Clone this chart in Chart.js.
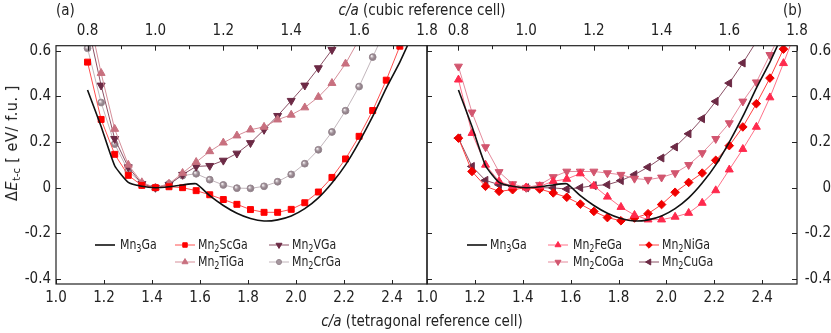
<!DOCTYPE html>
<html><head><meta charset="utf-8">
<script src="https://cdn.jsdelivr.net/npm/chart.js@4/dist/chart.umd.min.js"></script>
<style>
html,body{margin:0;padding:0;background:#fff;}
#wrap{position:relative;width:831px;height:333px;overflow:hidden;font-family:'DejaVu Sans Condensed','DejaVu Sans',sans-serif;color:#222;}
canvas{position:absolute;top:0;}
#cL{left:0;} #cR{left:400px;}
.t{position:absolute;white-space:nowrap;line-height:1;}
.ttl{font-size:15px;}
.lg{font-size:13.5px;transform:translateY(-50%) scaleX(0.9);transform-origin:0 50%;}
sub{font-size:10px;vertical-align:-3px;line-height:0;}
#ytitle{left:12px;top:143px;transform:translate(-50%,-50%) rotate(-90deg);font-size:16px;letter-spacing:0.6px;}
#ytitle sub{font-size:11px;letter-spacing:0;}
</style></head>
<body>
<div id="wrap">
<canvas id="cL" width="440" height="333"></canvas>
<canvas id="cR" width="431" height="333"></canvas>
<div class="t ttl" style="left:56px;top:3px;">(a)</div>
<div class="t ttl" style="left:783px;top:3px;">(b)</div>
<div class="t ttl" id="toptitle" style="left:422px;top:3px;transform:translateX(-50%);"><i>c/a</i> (cubic reference cell)</div>
<div class="t ttl" id="bottitle" style="left:422px;top:314px;transform:translateX(-50%);"><i>c/a</i> (tetragonal reference cell)</div>
<div class="t" id="ytitle">Δ<i>E</i><sub>t-c</sub>&nbsp;[ eV/ f.u. ]</div>
<div class="t lg" style="left:120px;top:245px;">Mn<sub>3</sub>Ga</div>
<div class="t lg" style="left:198px;top:245px;">Mn<sub>2</sub>ScGa</div>
<div class="t lg" style="left:292px;top:245px;">Mn<sub>2</sub>VGa</div>
<div class="t lg" style="left:198px;top:262px;">Mn<sub>2</sub>TiGa</div>
<div class="t lg" style="left:292px;top:262px;">Mn<sub>2</sub>CrGa</div>
<div class="t lg" style="left:490px;top:245px;">Mn<sub>3</sub>Ga</div>
<div class="t lg" style="left:573px;top:245px;">Mn<sub>2</sub>FeGa</div>
<div class="t lg" style="left:662px;top:245px;">Mn<sub>2</sub>NiGa</div>
<div class="t lg" style="left:573px;top:262px;">Mn<sub>2</sub>CoGa</div>
<div class="t lg" style="left:662px;top:262px;">Mn<sub>2</sub>CuGa</div>
</div>
<script>
// ---- data (cubic c/a grid, energies in eV/f.u.) ----
const cubicCA = [0.80,0.84,0.88,0.92,0.96,1.00,1.04,1.08,1.12,1.16,1.20,1.24,1.28,1.32,1.36,1.40,1.44,1.48,1.52,1.56,1.60,1.64,1.68,1.72,1.76,1.80];
const mn3Ga   = [0.428,0.268,0.096,0.023,0.006,0.000,0.004,0.012,0.017,-0.035,-0.078,-0.112,-0.135,-0.146,-0.141,-0.124,-0.092,-0.045,0.020,0.100,0.200,0.312,0.436,0.550,0.680];
const mn2ScGa = [0.550,0.299,0.146,0.054,0.010,0.000,0.004,0.000,-0.013,-0.031,-0.052,-0.073,-0.096,-0.108,-0.108,-0.095,-0.066,-0.019,0.045,0.126,0.225,0.338,0.471,0.620,0.770];
const mn2TiGa = [0.780,0.502,0.257,0.100,0.023,0.000,0.017,0.064,0.112,0.159,0.197,0.228,0.254,0.266,0.298,0.319,0.351,0.397,0.458,0.543,0.650];
const mn2VGa  = [0.720,0.448,0.214,0.090,0.017,0.000,0.013,0.057,0.093,0.096,0.119,0.150,0.196,0.254,0.315,0.381,0.448,0.524,0.604,0.690];
const mn2CrGa = [0.611,0.373,0.191,0.074,0.017,0.000,0.017,0.053,0.061,0.035,0.012,-0.002,-0.003,0.006,0.026,0.058,0.105,0.166,0.244,0.337,0.443,0.572,0.700];
const mn2FeGa = [0.473,0.239,0.100,0.028,0.006,0.000,0.006,0.028,0.038,0.062,0.008,-0.040,-0.085,-0.120,-0.140,-0.140,-0.128,-0.111,-0.067,-0.012,0.079,0.169,0.266,0.395,0.545,0.700];
const mn2CoGa = [0.531,0.330,0.178,0.069,0.016,0.000,0.013,0.047,0.071,0.071,0.071,0.064,0.057,0.040,0.035,0.045,0.064,0.100,0.152,0.214,0.283,0.378,0.462,0.582,0.700];
const mn2NiGa = [0.217,0.071,0.006,-0.016,-0.009,0.000,-0.006,-0.023,-0.042,-0.072,-0.104,-0.131,-0.145,-0.133,-0.114,-0.074,-0.020,0.023,0.064,0.120,0.184,0.266,0.368,0.480,0.607,0.740];
const mn2CuGa = [0.217,0.093,0.032,0.013,0.006,0.000,0.000,-0.001,-0.006,0.000,0.009,0.013,0.031,0.057,0.090,0.130,0.178,0.236,0.302,0.378,0.458,0.546,0.640];

const cubicTicks = [0.8,0.9,1.0,1.1,1.2,1.3,1.4,1.5,1.6,1.7,1.8];
const cubicTickLabels = ['0.8','','1.0','','1.2','','1.4','','1.6','','1.8'];
const tetraTicks = [1.0,1.2,1.4,1.6,1.8,2.0,2.2,2.4];
const tetraTickLabels = ['1.0','1.2','1.4','1.6','1.8','2.0','2.2','2.4'];
const energyTicks = [-0.4,-0.2,0,0.2,0.4,0.6];
const energyTickLabels = ['-0.4','-0.2','0','0.2','0.4','0.6'];

const CUBIC_MIN = 1/Math.SQRT2, CUBIC_MAX = 1.8;
const TETRA_MIN = 1.0, TETRA_MAX = 1.8*Math.SQRT2;
const Y_MIN = -0.422, Y_MAX = 0.622;
Chart.defaults.font.family = "'DejaVu Sans Condensed','DejaVu Sans',sans-serif";
Chart.defaults.color = '#222';

function pts(vals){ return vals.map((v,i)=>({x:cubicCA[i], y:v})); }
function series(label, vals, color, line, style, r, rot, edge){
  return {label, data:pts(vals), xAxisID:'x2', yAxisID:'y',
    borderColor: line, borderWidth: 1, pointStyle: style, pointRadius: r, pointRotation: rot||0,
    pointBackgroundColor: color, pointBorderColor: edge||color, pointBorderWidth: 1, tension: 0, fill:false};
}
function sphereFill(base){
  return function(c){
    if (c.type !== 'data' || !c.parsed) return base;
    const ch = c.chart, sx = ch.scales.x2, sy = ch.scales.y;
    if (!sx || !sy) return base;
    const x = sx.getPixelForValue(c.parsed.x), y = sy.getPixelForValue(c.parsed.y);
    if (!isFinite(x) || !isFinite(y)) return base;
    const g = ch.ctx.createRadialGradient(x-1.2, y-1.2, 0.3, x, y, 3.6);
    g.addColorStop(0, '#f4f0f2'); g.addColorStop(0.45, base); g.addColorStop(1, '#7f6e77');
    return g;
  };
}
function black(){
  return {label:'Mn3Ga', data:pts(mn3Ga), xAxisID:'x2', yAxisID:'y', borderColor:'#111', borderWidth:1.6,
    pointRadius:0, tension:0.15, fill:false};
}

const frameTicks = {
  id:'frameTicks',
  afterDatasetsDraw(chart, args, opts){
    const ctx = chart.ctx, a = chart.chartArea;
    const xb = chart.scales.x, xt = chart.scales.x2, y = chart.scales.y;
    ctx.save();
    ctx.strokeStyle = '#222'; ctx.lineWidth = 1;
    ctx.beginPath();
    xb.ticks.forEach(t=>{const p=Math.round(xb.getPixelForValue(t.value))+0.5; ctx.moveTo(p,a.bottom); ctx.lineTo(p,a.bottom-4);});
    xt.ticks.forEach((t,i)=>{const p=Math.round(xt.getPixelForValue(t.value))+0.5; const L = cubicTickLabels[i] ? 5 : 3.5; ctx.moveTo(p,a.top); ctx.lineTo(p,a.top+L);});
    y.ticks.forEach(t=>{const p=Math.round(y.getPixelForValue(t.value))+0.5;
      ctx.moveTo(a.left,p); ctx.lineTo(a.left+5,p);
      if (opts.side==='right'){ ctx.moveTo(a.right,p); ctx.lineTo(a.right-5,p); }
    });
    ctx.stroke();
    ctx.lineWidth = 1.2;
    ctx.strokeRect(a.left, a.top, a.right-a.left, a.bottom-a.top);
    ctx.restore();
  }
};
const symLegend = {
  id:'symLegend',
  afterDraw(chart, args, opts){
    const ctx = chart.ctx;
    (opts.items||[]).forEach(it=>{
      const ds = chart.data.datasets[it.ds];
      ctx.save();
      ctx.strokeStyle = ds.borderColor; ctx.lineWidth = ds.borderWidth;
      ctx.beginPath(); ctx.moveTo(it.x, it.y); ctx.lineTo(it.x+20, it.y); ctx.stroke();
      if (ds.pointRadius>0){
        ctx.fillStyle = ds.legendColor || ds.pointBackgroundColor; ctx.strokeStyle = ds.pointBorderColor;
        Chart.helpers.drawPoint(ctx, {pointStyle: ds.pointStyle, rotation: ds.pointRotation||0, radius: ds.pointRadius*0.75, borderWidth: 1}, it.x+10, it.y);
      }
      ctx.restore();
    });
  }
};

function makeChart(id, datasets, side, items){
  const tickFont = {size:15};
  const noGrid = {display:false, drawTicks:false};
  return new Chart(document.getElementById(id), {
    type:'line',
    data:{datasets},
    options:{
      responsive:false, animation:false, devicePixelRatio:1,
      layout:{padding: side==='left' ? {left:0,right:13,top:0,bottom:0} : {left:27,right:0,top:0,bottom:0}},
      plugins:{legend:{display:false}, tooltip:{enabled:false}, frameTicks:{side}, symLegend:{items}},
      scales:{
        x:{type:'linear', position:'bottom', min:TETRA_MIN, max:TETRA_MAX,
           grid:noGrid, border:{display:false},
           afterBuildTicks:s=>{s.ticks = tetraTicks.map(v=>({value:v}));},
           ticks:{callback:(v,i)=>tetraTickLabels[i], padding:5, maxRotation:0, autoSkip:false, font:tickFont},
           afterFit:s=>{s.height=49; s.paddingLeft=0; s.paddingRight=0;}},
        x2:{type:'linear', position:'top', min:CUBIC_MIN, max:CUBIC_MAX,
           grid:noGrid, border:{display:false},
           afterBuildTicks:s=>{s.ticks = cubicTicks.map(v=>({value:v}));},
           ticks:{callback:(v,i)=>cubicTickLabels[i], padding:6, maxRotation:0, autoSkip:false, font:tickFont},
           afterFit:s=>{s.height=45.7; s.paddingLeft=0; s.paddingRight=0;}},
        y:{type:'linear', position:side, min:Y_MIN, max:Y_MAX,
           grid:noGrid, border:{display:false},
           afterBuildTicks:s=>{s.ticks = energyTicks.map(v=>({value:v}));},
           ticks:{callback:(v,i)=>energyTickLabels[i], padding: side==='left'?5:9, crossAlign: side==='left'?'near':'far', autoSkip:false, font:tickFont},
           afterFit:s=>{s.width = side==='left'?56:34; s.paddingTop=0; s.paddingBottom=0;}}
      }
    },
    plugins:[frameTicks, symLegend]
  });
}

const cTi='#c8707f', cV='#6c2a45', cCr='#a6979f', cSc='#ff0000', cFe='#ff2a4d', cCo='#d2566f', cNi='#f00000', cCu='#6c2a45';
const crSeries = series('Mn2CrGa', mn2CrGa, cCr, '#c2b6bc', 'circle', 3.4, 0, '#978890');
crSeries.pointBackgroundColor = sphereFill(cCr);
crSeries.legendColor = cCr;
makeChart('cL', [
  black(),
  series('Mn2ScGa', mn2ScGa, cSc, '#ff5050', 'rect', 4.2, 0),
  series('Mn2TiGa', mn2TiGa, cTi, '#d58e99', 'triangle', 4.6, 0),
  series('Mn2VGa',  mn2VGa,  cV,  '#8a5065', 'triangle', 4.6, 180),
  crSeries
], 'left', [
  {ds:0,x:95,y:245},{ds:1,x:175,y:245},{ds:3,x:269,y:245},{ds:2,x:175,y:262},{ds:4,x:269,y:262}
]);
makeChart('cR', [
  black(),
  series('Mn2FeGa', mn2FeGa, cFe, '#ff7088', 'triangle', 4.6, 0),
  series('Mn2CoGa', mn2CoGa, cCo, '#e58a9c', 'triangle', 4.6, 180),
  series('Mn2NiGa', mn2NiGa, cNi, '#ff4040', 'rectRot', 4.3, 0),
  series('Mn2CuGa', mn2CuGa, cCu, '#8a5065', 'triangle', 4.6, -90)
], 'right', [
  {ds:0,x:67,y:245},{ds:1,x:148,y:245},{ds:3,x:239,y:245},{ds:2,x:148,y:262},{ds:4,x:239,y:262}
]);
</script>
</body></html>
